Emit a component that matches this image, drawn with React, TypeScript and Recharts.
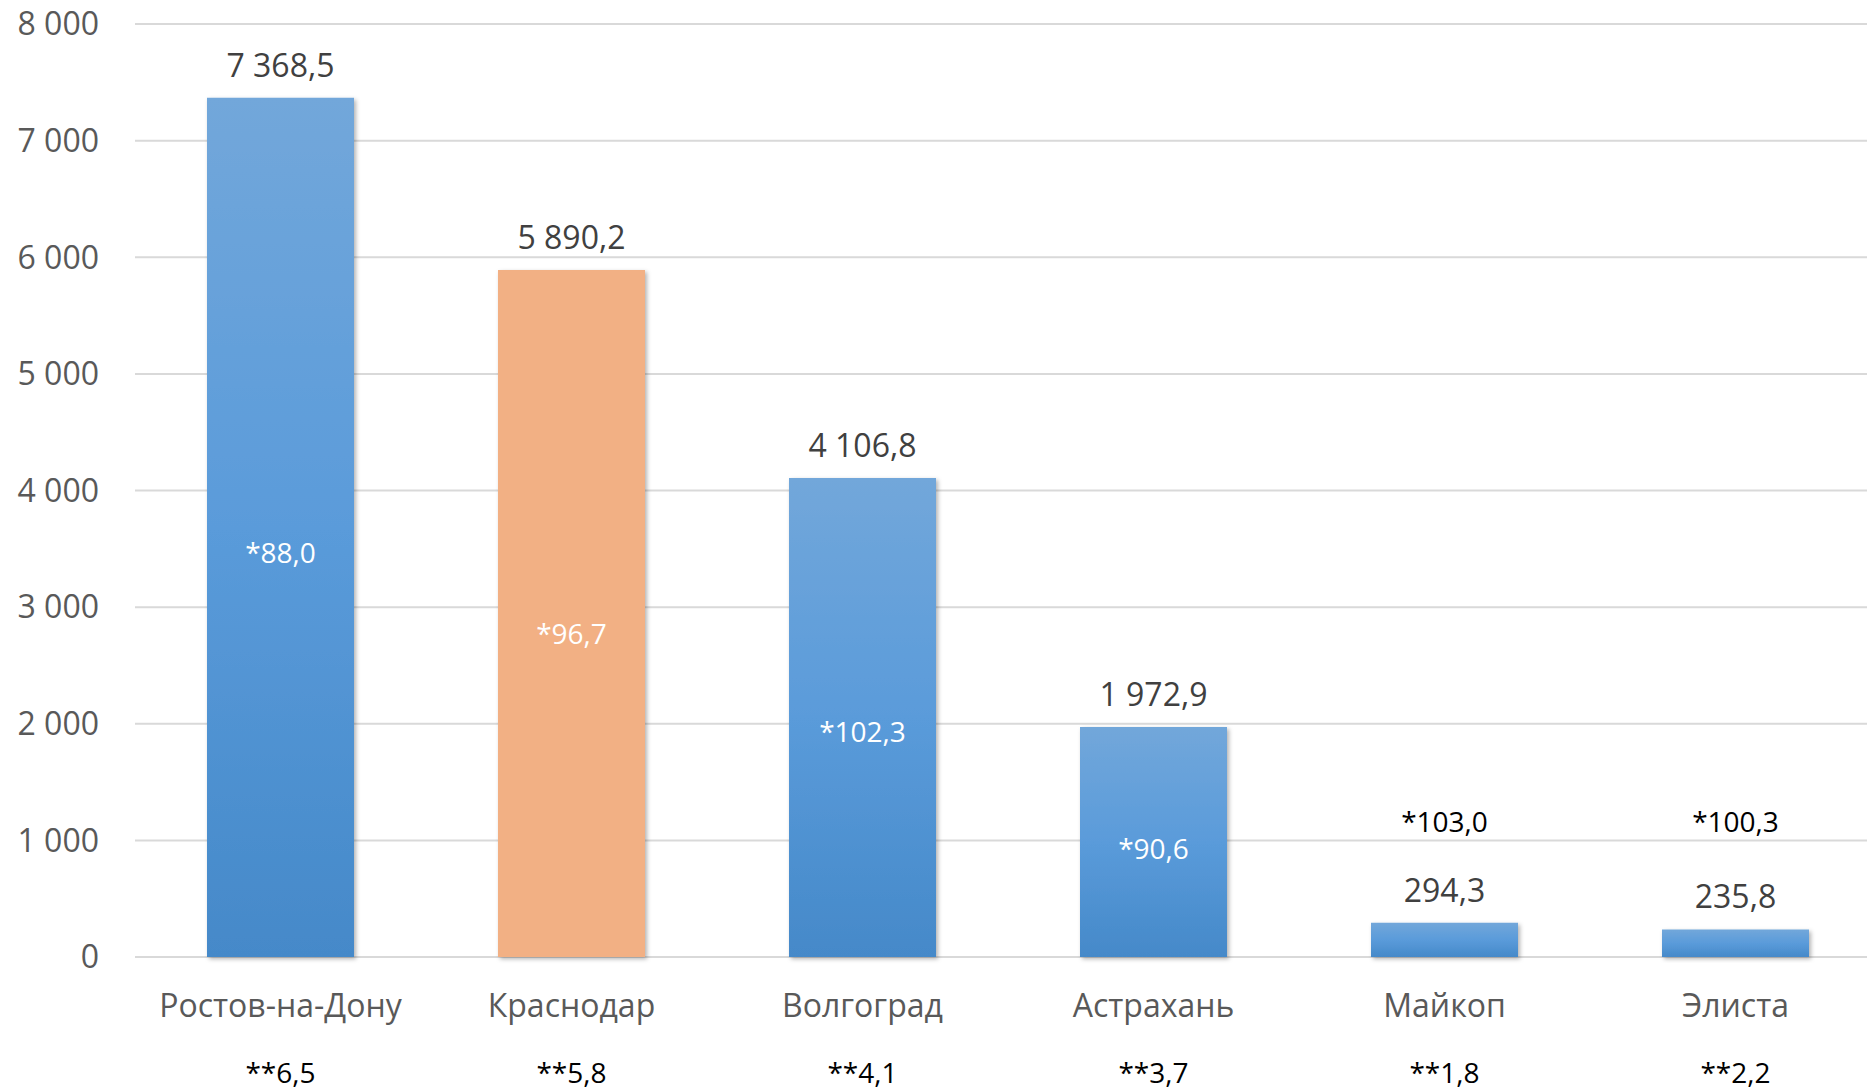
import React from 'react';
import { BarChart, Bar, XAxis, YAxis, CartesianGrid, Cell, LabelList } from 'recharts';

const cities = ['Ростов-на-Дону', 'Краснодар', 'Волгоград', 'Астрахань', 'Майкоп', 'Элиста'];
const values = [7368.5, 5890.2, 4106.8, 1972.9, 294.3, 235.8];
const growth = [88.0, 96.7, 102.3, 90.6, 103.0, 100.3];
const shares = [6.5, 5.8, 4.1, 3.7, 1.8, 2.2];
const highlighted = ['Краснодар'];
const yTicks = [0, 1000, 2000, 3000, 4000, 5000, 6000, 7000, 8000];

const data = cities.map((city, i) => ({
  city,
  value: values[i],
  growth: growth[i],
  share: shares[i],
}));

const FONT = "'Open Sans', sans-serif";

// 7368.5 -> "7 368,5"
const fmt = (v: number, digits = 1) => {
  const [int, dec] = v.toFixed(digits).split('.');
  const spaced = int.replace(/\B(?=(\d{3})+(?!\d))/g, ' ');
  return dec !== undefined ? `${spaced},${dec}` : spaced;
};

const ValueLabel = (props: any) => {
  const { x, y, width, value } = props;
  return (
    <text x={x + width / 2} y={y - 21} textAnchor="middle" fill="#404040" fontSize={32} fontFamily={FONT}>
      {fmt(value)}
    </text>
  );
};

const GrowthLabel = (props: any) => {
  const { x, y, width, height, value } = props;
  const small = height < 100;
  const ty = small ? y + height - 125 : y + height * 0.53 + 10;
  return (
    <text x={x + width / 2} y={ty} textAnchor="middle" fill={small ? '#000000' : '#ffffff'} fontSize={28} fontFamily={FONT}>
      {'*' + fmt(value)}
    </text>
  );
};

const CityTick = (props: any) => {
  const { x, y, payload, index } = props;
  return (
    <g>
      <text x={x} y={y + 60} textAnchor="middle" fill="#595959" fontSize={32} fontFamily={FONT}>
        {payload.value}
      </text>
      <text x={x} y={y + 126} textAnchor="middle" fill="#000000" fontSize={28} fontFamily={FONT}>
        {'**' + fmt(shares[index])}
      </text>
    </g>
  );
};

export default function App() {
  return (
    <div style={{ position: 'absolute', left: 0, top: 0, width: 1867, height: 1090, overflow: 'hidden', background: '#fff' }}>
      <BarChart width={1881} height={1090} data={data} margin={{ top: 24, right: 0, bottom: 0, left: 0 }}>
        <defs>
          <linearGradient id="blueGrad" x1="0" y1="0" x2="0" y2="1">
            <stop offset="0%" stopColor="#72a7da" />
            <stop offset="50%" stopColor="#5a9bda" />
            <stop offset="100%" stopColor="#4589c9" />
          </linearGradient>
          <filter id="barShadow" x="-10%" y="-10%" width="130%" height="130%">
            <feDropShadow dx="2" dy="2" stdDeviation="2" floodColor="#000" floodOpacity="0.3" />
          </filter>
        </defs>
        <CartesianGrid vertical={false} stroke="#d9d9d9" strokeWidth={2} />
        <XAxis
          dataKey="city"
          height={133}
          axisLine={false}
          tickLine={false}
          tickSize={0}
          tickMargin={0}
          interval={0}
          tick={<CityTick />}
        />
        <YAxis
          width={135}
          domain={[0, 8000]}
          ticks={yTicks}
          axisLine={false}
          tickLine={false}
          tickSize={0}
          tickMargin={36}
          tickFormatter={(v: number) => fmt(v, 0)}
          tick={{ fill: '#595959', fontSize: 32, fontFamily: FONT }}
        />
        <Bar dataKey="value" barSize={147} isAnimationActive={false} filter="url(#barShadow)">
          {data.map((d) => (
            <Cell key={d.city} fill={highlighted.includes(d.city) ? '#f2b084' : 'url(#blueGrad)'} />
          ))}
          <LabelList dataKey="value" content={<ValueLabel />} />
          <LabelList dataKey="growth" content={<GrowthLabel />} />
        </Bar>
      </BarChart>
    </div>
  );
}
